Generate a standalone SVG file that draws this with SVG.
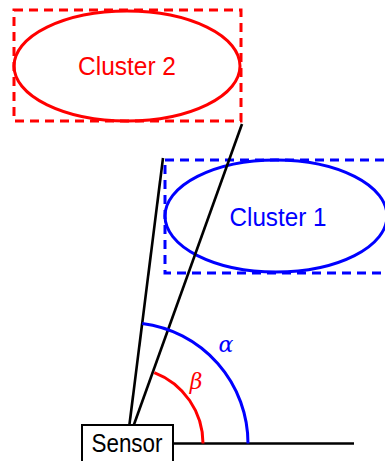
<svg xmlns="http://www.w3.org/2000/svg" width="385" height="461" viewBox="0 0 385 461">
<style>
.red{stroke:#ff0000;fill:none;stroke-width:3}
.blue{stroke:#0000ff;fill:none;stroke-width:3}
.dash{stroke-dasharray:9 6}
.ln{stroke:#000;stroke-width:2.6;fill:none}
.lbl{font-family:"Liberation Sans",sans-serif;font-size:25px;text-anchor:middle}
.greek{font-family:"DejaVu Serif",serif;font-style:italic;font-size:22px;text-anchor:middle}
</style>
<rect width="385" height="461" fill="#fff"/>
<g id="cluster2">
<rect class="red dash" x="14" y="10" width="227" height="111"/>
<ellipse class="red" cx="127" cy="66" rx="113" ry="55"/>
<text class="lbl" x="127" y="75" fill="#ff0000" textLength="98" lengthAdjust="spacingAndGlyphs">Cluster 2</text>
</g>
<g id="cluster1">
<rect class="blue dash" x="165" y="160" width="224" height="113"/>
<ellipse class="blue" cx="276" cy="216" rx="111" ry="56"/>
<text class="lbl" x="278" y="226" fill="#0000ff" textLength="97" lengthAdjust="spacingAndGlyphs">Cluster 1</text>
</g>
<g id="connectors">
<line class="ln" x1="129.4" y1="425" x2="163" y2="158"/>
<line class="ln" x1="133.8" y1="425" x2="242" y2="124"/>
<line class="ln" x1="173" y1="443.5" x2="354" y2="443.5"/>
<path class="blue" d="M248 443.5 A121 121 0 0 0 142.2 323.5"/>
<path class="red" d="M203 443.5 A76 76 0 0 0 154.3 372.6"/>
<text class="greek" x="226" y="352" fill="#0000ff">α</text>
<text class="greek" x="196" y="389" fill="#ff0000">β</text>
</g>
<g id="sensor">
<rect x="82" y="425" width="91" height="40" fill="#fff" stroke="#000" stroke-width="2"/>
<text class="lbl" x="127" y="452" fill="#000" textLength="71" lengthAdjust="spacingAndGlyphs">Sensor</text>
</g>
</svg>
